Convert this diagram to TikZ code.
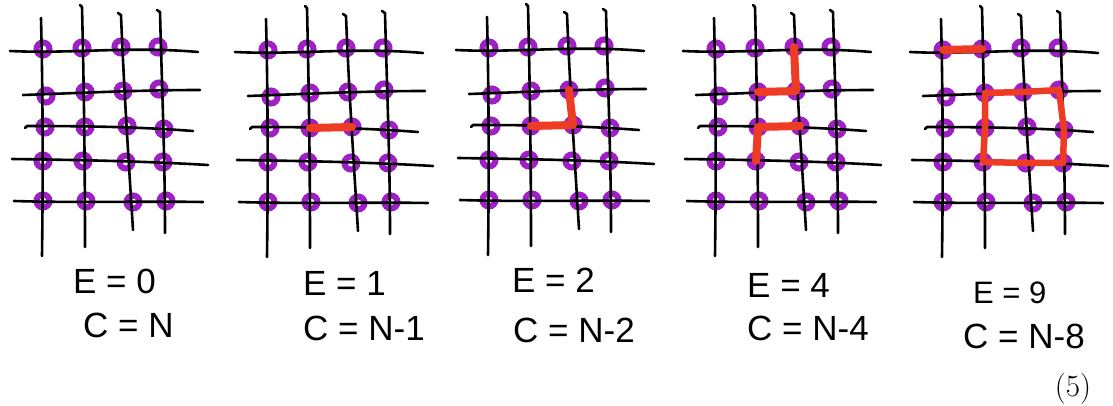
\documentclass[tikz,border=0pt]{standalone}
\usepackage{fontspec}
\newfontfamily\handfont{Liberation Sans}
\definecolor{sitepurple}{HTML}{A020C8}
\definecolor{edgered}{HTML}{EE3B24}
\newcommand{\latgrid}[1]{%
  % sites
  \foreach \r/\c/\x/\y in {0/0/43/49,0/1/82/48,0/2/121/47,0/3/158/47,
                           1/0/46/96,1/1/85/92,1/2/123/91,1/3/159/89,
                           2/0/45/127,2/1/85/127,2/2/127/126,2/3/164/129,
                           3/0/43/161,3/1/83/161,3/2/126/162,3/3/163/162,
                           4/0/43/201,4/1/86/201,4/2/133/202,4/3/166/201}{
    \node[site] (#1\r\c) at (\x,\y) {};
  }
  % horizontal lines
  \draw[gridline] (10,51) .. controls (70,54) and (130,46) .. (198,52);
  \draw[gridline] (23,95) .. controls (80,93) and (140,90) .. (200,90);
  \draw[gridline] (25,128) -- (27,126) .. controls (90,126) and (140,127) .. (193,131);
  \draw[gridline] (12,159) .. controls (80,160) and (140,161) .. (208,165);
  \draw[gridline] (14,201) .. controls (80,203) and (140,201) .. (203,202);
  % vertical lines
  \draw[gridline] (41,18) .. controls (43,100) and (43,180) .. (42,256);
  \draw[gridline] (80,5) -- (82,7) .. controls (84,90) and (85,170) .. (85,247);
  \draw[gridline] (118,13) -- (121,15) .. controls (124,90) and (128,150) .. (133,230);
  \draw[gridline] (157,10) -- (160,12) .. controls (162,90) and (165,160) .. (165,233);
}
\begin{document}
\begin{tikzpicture}[x=1pt,y=-1pt,
  gridline/.style={line width=2.6pt, line cap=round, line join=round, black},
  site/.style={circle, draw=sitepurple, line width=6pt, minimum size=13pt, inner sep=0pt},
  redge/.style={draw=edgered, line width=8pt, line cap=round, line join=round},
  hand/.style={font={\handfont\fontsize{35}{42}\selectfont}, anchor=base west, inner sep=0pt}]
\useasboundingbox (0,0) rectangle (1113,406);
\fill[white] (0,0) rectangle (1113,406);

\begin{scope}\latgrid{a}\end{scope}
\begin{scope}[shift={(225,1)}]\latgrid{b}\end{scope}
\begin{scope}[shift={(446,-1)}]\latgrid{c}\end{scope}
\begin{scope}[shift={(673,0)}]\latgrid{d}\end{scope}
\begin{scope}[shift={(900,1)}]\latgrid{e}\end{scope}

% panel 2
\draw[redge] (b21.center) -- (b22.center);
% panel 3
\draw[redge] (c21.center) -- (c22.center) -- (c12.center);
% panel 4
\draw[redge] (d02.center) -- (d12.center) -- (d11.center);
\draw[redge] (d22.center) -- (d21.center) -- (d31.center);
% panel 5
\draw[redge] (e00.center) -- (e01.center);
\draw[redge, line width=6.5pt] (e11.center) -- (e12.center) -- (e13.center) -- (e23.center) -- (e33.center) -- (e32.center) -- (e31.center) -- (e21.center) -- cycle;

% labels
\node[hand] (ea) at (73,293) {E = 0};
\node[hand] (ca) at (83,337) {C = N};
\node[hand] (eb) at (303,295) {E = 1};
\node[hand] (cb) at (303,340) {C = N-1};
\node[hand] (ec) at (512,292) {E = 2};
\node[hand] (cc) at (513,342) {C = N-2};
\node[hand] (ed) at (747,297) {E = 4};
\node[hand] (cd) at (747,340) {C = N-4};
\node[hand, font={\handfont\fontsize{31}{38}\selectfont}] (ee) at (973,303) {E = 9};
\node[hand] (ce) at (963,348) {C = N-8};
\node[anchor=base, inner sep=0pt, font=\fontsize{31}{37}\selectfont] (eqnum) at (1073,396) {(5)};
\end{tikzpicture}
\end{document}
